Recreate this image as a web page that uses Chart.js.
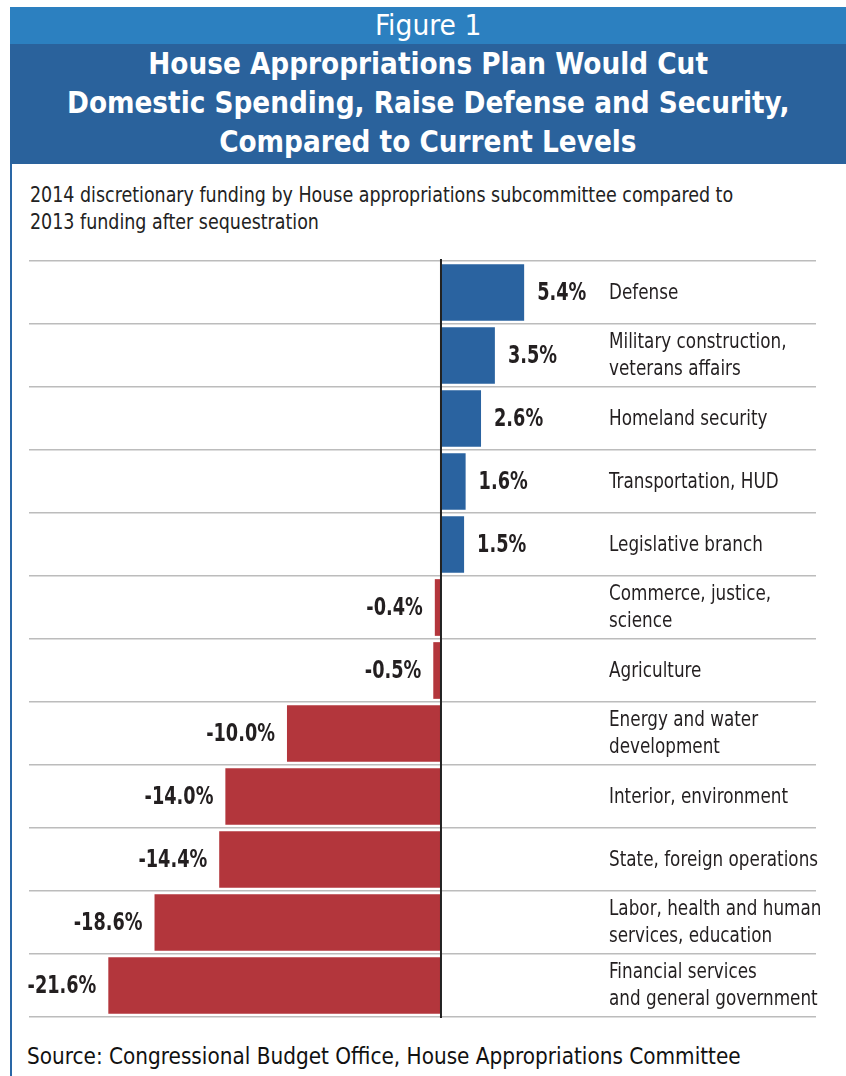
<!DOCTYPE html>
<html>
<head>
<meta charset="utf-8">
<script src="https://cdn.jsdelivr.net/npm/chart.js@4.4.0/dist/chart.umd.min.js"></script>
<style>
  body { margin: 0; background: #fff; width: 846px; height: 1076px; position: relative; overflow: hidden;
         font-family: "DejaVu Sans Condensed", "Liberation Sans Narrow", sans-serif; }
  .border { position: absolute; left: 10px; top: 7px; width: 2px; height: 1069px; background: #2a67a6; }
  .fig { position: absolute; left: 10px; top: 7px; width: 836px; height: 37px; background: #2c80c0;
         color: #fff; font-size: 29px; text-align: center; line-height: 37px; }
  .fig span { display: inline-block; transform: scaleX(1.02); }
  .title { position: absolute; left: 10px; top: 44px; width: 836px; height: 120px; background: #2a629c;
           color: #fff; font-weight: bold; font-size: 31px; line-height: 39px; text-align: center; }
  .title span { display: inline-block; transform: scaleX(0.945); white-space: nowrap; }
  .sub { position: absolute; left: 30px; top: 182px; font-size: 21px; line-height: 27px; color: #222;
         transform: scaleX(0.925); transform-origin: left top; white-space: nowrap; }
  .src { position: absolute; left: 27px; top: 1043px; font-size: 23px; color: #111;
         transform: scaleX(0.97); transform-origin: left top; white-space: nowrap; }
  canvas { position: absolute; left: 0; top: 250px; }
</style>
</head>
<body>
<div class="border"></div>
<div class="fig"><span>Figure 1</span></div>
<div class="title"><span>House Appropriations Plan Would Cut</span><br><span>Domestic Spending, Raise Defense and Security,</span><br><span>Compared to Current Levels</span></div>
<div class="sub">2014 discretionary funding by House appropriations subcommittee compared to<br>2013 funding after sequestration</div>
<canvas id="chart" width="846" height="780"></canvas>
<div class="src">Source: Congressional Budget Office, House Appropriations Committee</div>
<script>
var categories = [
  ['Defense'],
  ['Military construction,', 'veterans affairs'],
  ['Homeland security'],
  ['Transportation, HUD'],
  ['Legislative branch'],
  ['Commerce, justice,', 'science'],
  ['Agriculture'],
  ['Energy and water', 'development'],
  ['Interior, environment'],
  ['State, foreign operations'],
  ['Labor, health and human', 'services, education'],
  ['Financial services', 'and general government']
];
var changes = [5.4, 3.5, 2.6, 1.6, 1.5, -0.4, -0.5, -10.0, -14.0, -14.4, -18.6, -21.6];
var valueLabels = ['5.4%', '3.5%', '2.6%', '1.6%', '1.5%', '-0.4%', '-0.5%', '-10.0%', '-14.0%', '-14.4%', '-18.6%', '-21.6%'];

var BLUE = '#2a63a0';
var RED = '#b3363c';
var FONT = '"DejaVu Sans Condensed", "Liberation Sans Narrow", sans-serif';

// draw text squeezed horizontally, the reference uses a very narrow face
function narrowText(ctx, text, x, y, sx) {
  ctx.save();
  ctx.translate(x, y);
  ctx.scale(sx, 1);
  ctx.fillText(text, 0, 0);
  ctx.restore();
}

// value labels, category names and the zero line
var labelPlugin = {
  id: 'labels',
  afterDatasetsDraw: function(chart) {
    var ctx = chart.ctx;
    var area = chart.chartArea;
    var x0 = chart.scales.x.getPixelForValue(0);
    var bars = chart.getDatasetMeta(0).data;

    ctx.save();
    ctx.strokeStyle = '#222';
    ctx.lineWidth = 2;
    ctx.beginPath();
    ctx.moveTo(x0, area.top - 2);
    ctx.lineTo(x0, area.bottom + 1);
    ctx.stroke();

    ctx.textBaseline = 'middle';
    bars.forEach(function(bar, i) {
      ctx.fillStyle = '#231f20';
      ctx.font = 'bold 24px ' + FONT;
      if (changes[i] >= 0) {
        ctx.textAlign = 'left';
        narrowText(ctx, valueLabels[i], bar.x + 13, bar.y + 1, 0.82);
      } else {
        ctx.textAlign = 'right';
        narrowText(ctx, valueLabels[i], bar.x - 12, bar.y + 1, 0.82);
      }

      ctx.font = '21px ' + FONT;
      ctx.textAlign = 'left';
      var lines = categories[i];
      var lh = 27;
      var startY = bar.y - (lines.length - 1) * lh / 2;
      lines.forEach(function(line, j) {
        narrowText(ctx, line, 609, startY + j * lh + 1, 0.89);
      });
    });
    ctx.restore();
  }
};

new Chart(document.getElementById('chart'), {
  type: 'bar',
  data: {
    labels: categories.map(function(c) { return c.join(' '); }),
    datasets: [{
      data: changes,
      backgroundColor: changes.map(function(v) { return v >= 0 ? BLUE : RED; }),
      borderWidth: 0,
      barPercentage: 0.9,
      categoryPercentage: 1
    }]
  },
  options: {
    indexAxis: 'y',
    responsive: false,
    animation: false,
    layout: { padding: { left: 29, right: 30, top: 11, bottom: 13 } },
    plugins: { legend: { display: false }, tooltip: { enabled: false } },
    scales: {
      x: { display: false, min: -26.75, max: 24.35 },
      y: {
        ticks: { display: false, padding: 0 },
        border: { display: false },
        grid: { offset: true, color: '#bcbcbc', lineWidth: 1.5, drawTicks: false, tickLength: 0 }
      }
    }
  },
  plugins: [labelPlugin]
});
</script>
</body>
</html>
